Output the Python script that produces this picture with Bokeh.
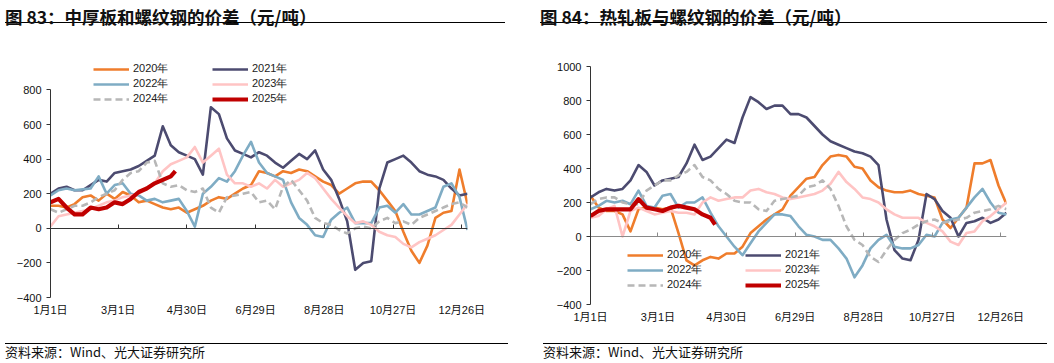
from bokeh.plotting import figure
from bokeh.layouts import row, column
from bokeh.models import (LinearAxis, FixedTicker, Range1d, Legend, LegendItem, Div)
from bokeh.embed import file_html
from bokeh.resources import INLINE

# ---------------- data ----------------
days = list(range(0, 365, 7))                     # sample days (day of year)
days25 = list(range(0, 106, 7)) + [109]

tick_days = [0, 59, 119, 179, 239, 299, 359]
tick_labels = ["1月1日", "3月1日", "4月30日", "6月29日", "8月28日", "10月27日", "12月26日"]

years = ["2020年", "2021年", "2022年", "2023年", "2024年", "2025年"]

# Figure 83: plate - rebar spread
p83_2020 = [130, 130, 120, 140, 180, 190, 160, 200, 170, 210,
            190, 150, 160, 140, 120, 110, 120, 90, 110, 130,
            160, 180, 170, 200, 230, 250, 330, 320, 300, 330,
            320, 340, 330, 300, 270, 250, 200, 230, 260, 270,
            270, 220, 160, 100, -20, -130, -200, -100, 60, 90,
            100, 340, 140]
p83_2021 = [200, 230, 240, 220, 220, 250, 280, 270, 320, 330,
            340, 360, 390, 420, 590, 480, 440, 420, 400, 310,
            700, 660, 520, 450, 430, 410, 440, 420, 380, 350,
            390, 430, 400, 450, 340, 280, 170, 40, -240, -200,
            -190, 230, 380, 400, 420, 380, 330, 310, 300, 280,
            230, 190, 200]
p83_2022 = [190, 220, 230, 220, 225, 230, 300, 200, 250, 260,
            200, 190, 160, 170, 150, 160, 170, 100, 10, 200,
            240, 290, 270, 330, 420, 500, 380, 320, 300, 280,
            150, 60, 20, -40, -50, 50, 90, 120, 30, 30,
            30, 120, 130, 90, 140, 80, 80, 100, 120, 240,
            260, 180, -10]
p83_2023 = [10, 70, 80, 90, 100, 110, 130, 150, 160, 180,
            190, 200, 230, 260, 330, 370, 390, 410, 470, 380,
            420, 460, 310, 260, 260, 240, 260, 230, 280, 240,
            260, 280, 320, 290, 230, 170, 120, 70, 30, 40,
            20, -20, -40, -50, -90, -110, -80, -60, -40, -10,
            20, 80, 140]
p83_2024 = [110, 90, 110, 130, 130, 150, 180, 200, 220, 280,
            320, 330, 380, 390, 260, 240, 250, 220, 210, 230,
            120, 90, 180, 190, 200, 210, 150, 160, 110, 240,
            280, 220, 160, 60, 30, 20, -10, -30, 0, 10,
            0, 40, 60, 30, 40, 20, 60, 80, 100, 120,
            140, 150, 120]
p83_2025 = [150, 170, 120, 80, 80, 120, 110, 120, 150, 140, 170, 210, 230, 260, 280, 300, 330]

# Figure 84: hot-rolled coil - rebar spread
p84_2020 = [240, 170, 150, 150, 130, 30, 160, 170, 170, 160,
            170, 20, -140, -170, -140, -120, -130, -100, -100, -60,
            20, 60, 100, 130, 160, 240, 290, 340, 350, 420,
            470, 480, 470, 410, 400, 330, 290, 270, 260, 260,
            270, 250, 240, 230, 100, 50, 110, 170, 430, 430,
            450, 300, 190]
p84_2021 = [230, 260, 280, 270, 280, 330, 420, 380, 300, 330,
            340, 350, 430, 540, 450, 470, 520, 570, 550, 700,
            820, 790, 750, 770, 770, 720, 720, 700, 650, 600,
            560, 540, 520, 500, 490, 470, 420, 100, -80, -130,
            -140, -20, 250, 220, 150, 110, 0, 80, 90, 110,
            80, 100, 140]
p84_2022 = [160, 180, 210, 200, 210, 190, 270, 180, 170, 240,
            250, 170, 200, 200, 230, 140, 60, 0, -60, -110,
            -40, 30, 80, 130, 130, 120, 60, 10, 0, -20,
            -20, -70, -130, -240, -170, -70, -20, 10, -60, -70,
            -70, -50, 10, 0, 80, 100, 110, 170, 230, 280,
            200, 140, 130]
p84_2023 = [110, 120, 160, 180, 0, 150, 170, 150, 130, 140,
            150, 140, 140, 130, 200, 230, 210, 220, 230, 230,
            270, 280, 260, 250, 230, 220, 230, 240, 250, 270,
            310, 380, 320, 280, 230, 220, 200, 160, 130, 110,
            110, 110, 80, 60, 30, -30, -50, 20, 30, 90,
            120, 160, 200]
p84_2024 = [190, 220, 230, 230, 200, 190, 190, 270, 300, 330,
            330, 360, 380, 420, 350, 330, 280, 250, 210, 200,
            200, 160, 150, 210, 220, 230, 240, 290, 300, 330,
            280, 180, 60, -20, -50, -120, -150, -80, -20, 20,
            40, 70, 90, 100, 80, 90, 100, 110, 140, 150,
            160, 180, 160]
p84_2025 = [120, 150, 160, 160, 160, 160, 220, 170, 160, 150, 170, 180, 170, 160, 130, 110, 70]

yticks83 = [-400, -200, 0, 200, 400, 600, 800]
yticks84 = [-400, -200, 0, 200, 400, 600, 800, 1000]

# ---------------- styles ----------------
FONT = "Liberation Sans, Noto Sans CJK SC"
LEGFONT = "Liberation Sans"
colors = ["#EF7D2C", "#4C4B70", "#7FACC4", "#FFC4C4", "#B7B7B7", "#C00000"]
widths = [2.6, 2.6, 2.6, 2.6, 2.6, 4.2]
dashes = ["solid", "solid", "solid", "solid", "7 4", "solid"]


def make_chart(series, ymin, ymax, yticks, mb, leg1, leg2, zero_color):
    p = figure(width=527, height=299, x_range=Range1d(0, 364), y_range=Range1d(ymin, ymax),
               output_backend="svg", toolbar_location=None,
               min_border_left=mb[0], min_border_right=mb[1],
               min_border_top=mb[2], min_border_bottom=mb[3])
    p.xgrid.visible = False
    p.ygrid.visible = False
    p.outline_line_color = None
    p.background_fill_color = "white"
    p.border_fill_color = "white"

    xa = p.xaxis[0]
    xa.ticker = FixedTicker(ticks=tick_days)
    xa.major_label_overrides = dict(zip(tick_days, tick_labels))
    xa.axis_line_color = None
    xa.major_tick_line_color = None
    xa.minor_tick_line_color = None
    xa.major_tick_out = 0
    xa.major_tick_in = 0
    xa.major_label_standoff = 6
    xa.major_label_text_font = FONT
    xa.major_label_text_font_size = "11px"
    xa.major_label_text_color = "#111111"

    za = LinearAxis(fixed_location=0, ticker=FixedTicker(ticks=tick_days),
                    major_tick_in=4, major_tick_out=0, minor_tick_line_color=None,
                    major_label_text_color=None, major_label_text_font_size="1px",
                    major_label_standoff=0, axis_line_color=zero_color,
                    major_tick_line_color=zero_color, axis_line_width=1.2)
    p.add_layout(za, "below")

    ya = p.yaxis[0]
    ya.ticker = FixedTicker(ticks=yticks)
    ya.bounds = (yticks[0], yticks[-1])
    ya.axis_line_color = "#333333"
    ya.major_tick_line_color = "#333333"
    ya.minor_tick_line_color = None
    ya.major_tick_out = 4
    ya.major_tick_in = 0
    ya.major_label_standoff = 5
    ya.major_label_text_font = FONT
    ya.major_label_text_font_size = "11px"
    ya.major_label_text_color = "#111111"

    rends = []
    for i, vals in enumerate(series):
        xs = days25 if i == 5 else days
        r = p.line(xs, vals, line_color=colors[i], line_width=widths[i],
                   line_dash=dashes[i], line_join="round")
        rends.append(r)

    def add_leg(idxs, loc):
        items = [LegendItem(label=years[i], renderers=[rends[i]]) for i in idxs]
        lg = Legend(items=items, location=loc, orientation="vertical",
                    glyph_width=36, glyph_height=12, label_height=12, label_standoff=4,
                    spacing=-4, padding=0, margin=0, border_line_color=None,
                    background_fill_alpha=0, label_text_font=LEGFONT,
                    label_text_font_size="11px", label_text_color="#222222")
        p.add_layout(lg, "center")

    add_leg([0, 2, 4], leg1)
    add_leg([1, 3, 5], leg2)
    return p


def title_div(text, shift, width):
    html = ('<div style="position:relative;left:%dpx;width:%dpx;height:23px;padding-top:8px;'
            'border-bottom:1.5px solid #000;font-family:\'Noto Sans CJK SC\';font-weight:bold;'
            'font-size:17.5px;line-height:18px;color:#111;white-space:nowrap;">%s</div>' % (shift, width, text))
    return Div(text=html, width=527, height=36, margin=0)


def source_div(text, shift, width):
    html = ('<div style="position:relative;left:%dpx;width:%dpx;margin-top:8px;'
            'border-top:1.5px solid #000;font-family:\'Noto Sans CJK SC\';'
            'font-size:13px;line-height:15px;color:#111;white-space:nowrap;">%s</div>' % (shift, width, text))
    return Div(text=html, width=527, height=28, margin=0)


p83 = make_chart([p83_2020, p83_2021, p83_2022, p83_2023, p83_2024, p83_2025],
                 -400, 970, yticks83, (50, 60, 24, 38), (43, 191), (162, 191), "#333333")
p84 = make_chart([p84_2020, p84_2021, p84_2022, p84_2023, p84_2024, p84_2025],
                 -400, 1000, yticks84, (63, 48, 30, 31), (37, 12), (155, 12), "#8A8A8A")

left = column(title_div("图 83：中厚板和螺纹钢的价差（元/吨）", 5, 500), p83,
              source_div("资料来源：Wind、光大证券研究所", 5, 503), spacing=0)
right = column(title_div("图 84：热轧板与螺纹钢的价差（元/吨）", 13, 507), p84,
               source_div("资料来源：Wind、光大证券研究所", 16, 504), spacing=0)
layout = row(left, right, spacing=0)

open("out.html", "w").write(file_html(layout, INLINE))
